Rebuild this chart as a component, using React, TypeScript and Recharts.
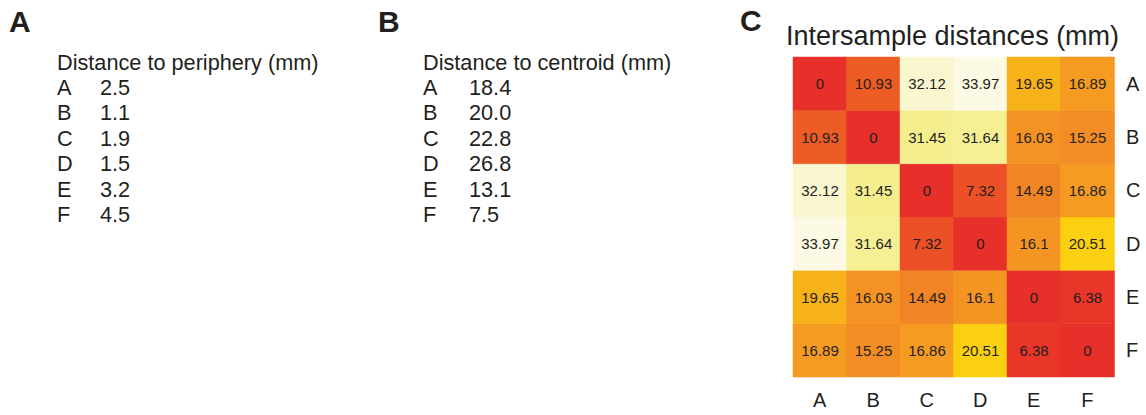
import { BarChart, Bar, XAxis, YAxis, Cell, LabelList } from 'recharts';

// samples A–F
const samples = ['A', 'B', 'C', 'D', 'E', 'F'];

// panel A / B tables
const peripheryMm = ['2.5', '1.1', '1.9', '1.5', '3.2', '4.5'];
const centroidMm = ['18.4', '20.0', '22.8', '26.8', '13.1', '7.5'];

// panel C: intersample distances, row by row (A..F)
const distA = [0, 10.93, 32.12, 33.97, 19.65, 16.89];
const distB = [10.93, 0, 31.45, 31.64, 16.03, 15.25];
const distC = [32.12, 31.45, 0, 7.32, 14.49, 16.86];
const distD = [33.97, 31.64, 7.32, 0, 16.1, 20.51];
const distE = [19.65, 16.03, 14.49, 16.1, 0, 6.38];
const distF = [16.89, 15.25, 16.86, 20.51, 6.38, 0];
const distances = [distA, distB, distC, distD, distE, distF];

const FONT = '"Liberation Sans", Arial, Helvetica, sans-serif';
const INK = '#231f20';

// heat palette stops (value -> rgb)
const stops: [number, number[]][] = [
  [0, [232, 48, 42]],
  [6.4, [233, 54, 41]],
  [7.3, [236, 80, 38]],
  [11, [238, 92, 37]],
  [15, [242, 138, 36]],
  [17, [245, 156, 34]],
  [19.6, [247, 176, 27]],
  [20.5, [250, 208, 16]],
  [31.4, [245, 238, 140]],
  [31.7, [246, 240, 150]],
  [32.1, [250, 246, 208]],
  [34, [252, 250, 228]],
];

function heat(v: number) {
  for (let k = 1; k < stops.length; k++) {
    const [v1, c1] = stops[k];
    const [v0, c0] = stops[k - 1];
    if (v <= v1) {
      const t = (v - v0) / (v1 - v0);
      const c = c0.map((x, n) => Math.round(x + (c1[n] - x) * t));
      return `rgb(${c[0]},${c[1]},${c[2]})`;
    }
  }
  const c = stops[stops.length - 1][1];
  return `rgb(${c[0]},${c[1]},${c[2]})`;
}

// one column per sample, each row a unit-high stacked segment
const chartData = samples.map((s) => {
  const row: Record<string, string | number> = { col: s };
  samples.forEach((_, i) => (row[`r${i}`] = 1));
  return row;
});

// bottom of the stack is F, top is A
const stackOrder = [5, 4, 3, 2, 1, 0];

function TextTable({ x, valueX, title, values }: { x: number; valueX: number; title: string; values: string[] }) {
  return (
    <g fontFamily={FONT} fontSize={21.7} fill={INK}>
      <text x={x} y={70}>{title}</text>
      {samples.map((s, i) => (
        <g key={s}>
          <text x={x} y={95 + i * 25.4}>{s}</text>
          <text x={valueX} y={95 + i * 25.4}>{values[i]}</text>
        </g>
      ))}
    </g>
  );
}

export default function App() {
  return (
    <div style={{ position: 'absolute', left: 0, top: 0, width: 1146, height: 415, background: '#fff' }}>
      <svg width={1146} height={415} style={{ position: 'absolute', left: 0, top: 0 }}>
        <g fontFamily={FONT} fontWeight="bold" fontSize={30} fill={INK}>
          <text x={9} y={32}>A</text>
          <text x={378} y={32}>B</text>
          <text x={740} y={31}>C</text>
        </g>
        <TextTable x={57} valueX={100} title="Distance to periphery (mm)" values={peripheryMm} />
        <TextTable x={423} valueX={469} title="Distance to centroid (mm)" values={centroidMm} />
        <text x={786} y={45} fontFamily={FONT} fontSize={27} fill={INK}>
          Intersample distances (mm)
        </text>
      </svg>
      <div style={{ position: 'absolute', left: 780, top: 0 }}>
        <BarChart
          width={366}
          height={415}
          data={chartData}
          margin={{ top: 57, right: 0, left: 13, bottom: 0 }}
          barCategoryGap={0}
          barGap={0}
        >
          <XAxis
            dataKey="col"
            axisLine={false}
            tickLine={false}
            height={38}
            tickMargin={10}
            tick={{ fontSize: 20, fill: INK, fontFamily: FONT }}
          />
          <YAxis
            type="number"
            orientation="right"
            domain={[0, 6]}
            ticks={[0.5, 1.5, 2.5, 3.5, 4.5, 5.5]}
            tickFormatter={(v: number) => samples[5 - Math.floor(v)]}
            axisLine={false}
            tickLine={false}
            width={32}
            tickMargin={6}
            tick={{ fontSize: 20, fill: INK, fontFamily: FONT }}
          />
          {stackOrder.map((i) => (
            <Bar key={i} dataKey={`r${i}`} stackId="grid" isAnimationActive={false}>
              {samples.map((s, j) => (
                <Cell key={s} fill={heat(distances[i][j])} stroke={heat(distances[i][j])} strokeWidth={0.5} />
              ))}
              <LabelList
                dataKey={`r${i}`}
                content={(p: any) => (
                  <text
                    x={p.x + p.width / 2}
                    y={p.y + p.height / 2}
                    textAnchor="middle"
                    dominantBaseline="central"
                    fontSize={15}
                    fontFamily={FONT}
                    fill={INK}
                  >
                    {distances[i][p.index]}
                  </text>
                )}
              />
            </Bar>
          ))}
        </BarChart>
      </div>
    </div>
  );
}
